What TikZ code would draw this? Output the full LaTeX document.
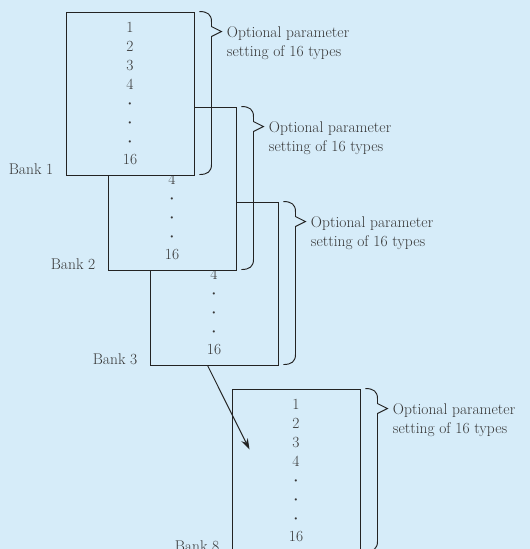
\documentclass[tikz,border=0pt]{standalone}
\usepackage{tikz}
\usepackage{amsmath}
\usetikzlibrary{arrows.meta, calc, positioning}
\definecolor{bgblue}{RGB}{214,236,249}
\definecolor{inkline}{RGB}{35,35,35}
\definecolor{inktext}{RGB}{55,55,55}
\tikzstyle{bank} = [rectangle, draw=inkline, fill=bgblue, line width=0.95pt, minimum width=128pt, minimum height=163pt, inner sep=0pt, text=inktext, align=center, font=\fontsize{15.5}{18.9}\selectfont]
\tikzstyle{brace} = [draw=inkline, line width=0.95pt, line join=miter]
\tikzstyle{note} = [anchor=north west, xshift=5pt, yshift=5pt, inner sep=0pt, align=left, text=inktext, font=\fontsize{15.5}{19}\selectfont]
\tikzstyle{banklabel} = [anchor=south east, xshift=-12pt, yshift=1pt, inner sep=0pt, text=inktext, font=\fontsize{15.5}{19}\selectfont]
\tikzstyle{arrow} = [draw=inkline, line width=0.95pt, -{Stealth[length=11pt, width=7pt]}]

\begin{document}
\begin{tikzpicture}[x=1pt, y=-1pt]
    \path [fill=bgblue, use as bounding box] (0,0) rectangle (530,549);
    \clip (0,0) rectangle (530,549);
    % banks, back to front
    \node (bankeight) [bank] at (296,470.5) {1\\2\\3\\4\\{\boldmath$\cdot$}\\{\boldmath$\cdot$}\\{\boldmath$\cdot$}\\16};
    \node (bankthree) [bank] at (214,283.5) {1\\2\\3\\4\\{\boldmath$\cdot$}\\{\boldmath$\cdot$}\\{\boldmath$\cdot$}\\16};
    \node (banktwo) [bank] at (172,188.5) {1\\2\\3\\4\\{\boldmath$\cdot$}\\{\boldmath$\cdot$}\\{\boldmath$\cdot$}\\16};
    \node (bankone) [bank] at (130,93.5) {1\\2\\3\\4\\{\boldmath$\cdot$}\\{\boldmath$\cdot$}\\{\boldmath$\cdot$}\\16};
    % braces
    \draw [brace, shift={(bankone.north east)}] (5,0) .. controls (13,0) and (17,3) .. (17,10) -- (17,15) -- (27,20) node (optone) [note] {Optional parameter\\setting of 16 types} -- (17,25) -- (17,153) .. controls (17,160) and (13,163) .. (5,163);
    \draw [brace, shift={(banktwo.north east)}] (5,0) .. controls (13,0) and (17,3) .. (17,10) -- (17,15) -- (27,20) node (opttwo) [note] {Optional parameter\\setting of 16 types} -- (17,25) -- (17,153) .. controls (17,160) and (13,163) .. (5,163);
    \draw [brace, shift={(bankthree.north east)}] (5,0) .. controls (13,0) and (17,3) .. (17,10) -- (17,15) -- (27,20) node (optthree) [note] {Optional parameter\\setting of 16 types} -- (17,25) -- (17,153) .. controls (17,160) and (13,163) .. (5,163);
    \draw [brace, shift={(bankeight.north east)}] (5,0) .. controls (13,0) and (17,3) .. (17,10) -- (17,15) -- (27,20) node (opteight) [note] {Optional parameter\\setting of 16 types} -- (17,25) -- (17,153) .. controls (17,160) and (13,163) .. (5,163);
    % labels
    \node (labone) [banklabel] at (bankone.south west) {Bank 1};
    \node (labtwo) [banklabel] at (banktwo.south west) {Bank 2};
    \node (labthree) [banklabel] at (bankthree.south west) {Bank 3};
    \node (labeight) [banklabel] at (bankeight.south west) {Bank 8};
    \draw [arrow] ([xshift=58pt]bankthree.south west) -- ([xshift=18pt, yshift=-61pt]bankeight.north west);
\end{tikzpicture}
\end{document}
